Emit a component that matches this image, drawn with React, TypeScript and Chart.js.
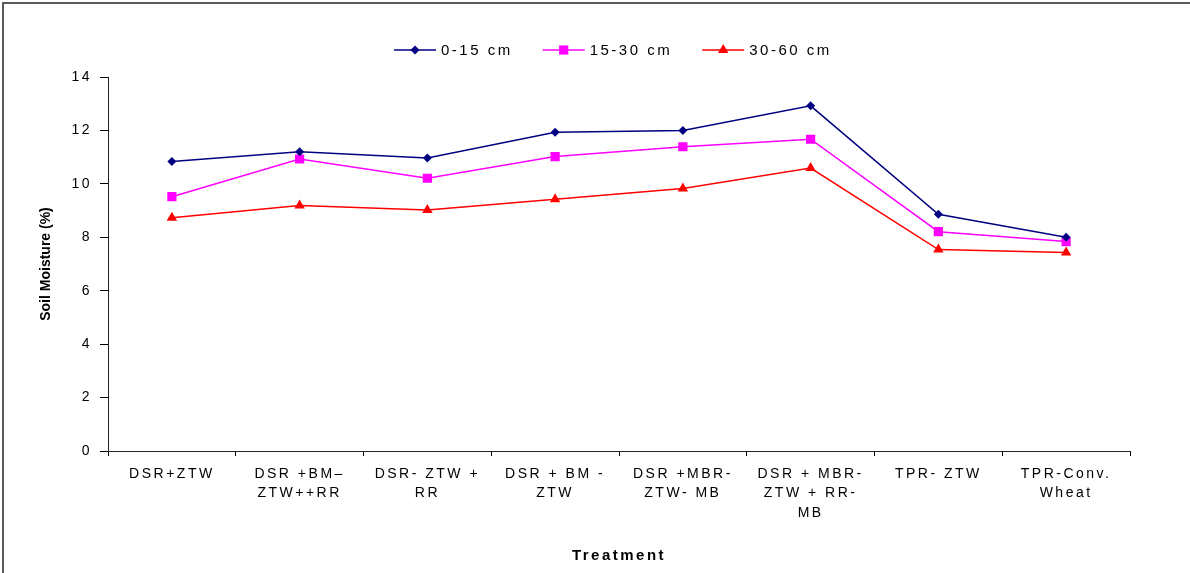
import React, { useEffect, useRef } from 'react';
import { Chart, registerables } from 'chart.js';

Chart.register(...registerables);

const FONT = '"Liberation Sans", Arial, Helvetica, sans-serif';
const SPACING = '2.5px';

const categories: string[][] = [
  ['DSR+ZTW'],
  ['DSR +BM–', 'ZTW++RR'],
  ['DSR- ZTW +', 'RR'],
  ['DSR + BM -', 'ZTW'],
  ['DSR +MBR-', 'ZTW- MB'],
  ['DSR + MBR-', 'ZTW + RR-', 'MB'],
  ['TPR- ZTW'],
  ['TPR-Conv.', 'Wheat'],
];

const seriesNames = ['0-15 cm', '15-30 cm', '30-60 cm'];
const depth0to15 = [10.84, 11.2, 10.97, 11.93, 12.0, 12.92, 8.86, 8.0];
const depth15to30 = [9.52, 10.93, 10.21, 11.02, 11.39, 11.67, 8.21, 7.84];
const depth30to60 = [8.73, 9.19, 9.02, 9.42, 9.83, 10.59, 7.54, 7.43];
const seriesColors = ['#000080', '#FF00FF', '#FF0000'];
const seriesMarkers = ['rectRot', 'rect', 'triangle'];
const seriesRadius = [4.5, 6.5, 6];
const yTicks = [0, 2, 4, 6, 8, 10, 12, 14];

const yTitle = 'Soil Moisture (%)';
const xTitle = 'Treatment';

function setSpacing(ctx: any, v: string) {
  if (ctx && 'letterSpacing' in ctx) ctx.letterSpacing = v;
}

function drawMarker(ctx: CanvasRenderingContext2D, style: string, x: number, y: number, r: number, color: string) {
  ctx.fillStyle = color;
  ctx.strokeStyle = color;
  ctx.beginPath();
  if (style === 'rectRot') {
    ctx.moveTo(x - r, y);
    ctx.lineTo(x, y - r);
    ctx.lineTo(x + r, y);
    ctx.lineTo(x, y + r);
    ctx.closePath();
  } else if (style === 'rect') {
    const s = Math.SQRT1_2 * r;
    ctx.rect(x - s, y - s, 2 * s, 2 * s);
  } else {
    let rad = 0;
    ctx.moveTo(x + Math.sin(rad) * r, y - Math.cos(rad) * r);
    rad += (2 * Math.PI) / 3;
    ctx.lineTo(x + Math.sin(rad) * r, y - Math.cos(rad) * r);
    rad += (2 * Math.PI) / 3;
    ctx.lineTo(x + Math.sin(rad) * r, y - Math.cos(rad) * r);
    ctx.closePath();
  }
  ctx.fill();
}

const spacingPlugin = {
  id: 'spacingPlugin',
  beforeUpdate(chart: any) { setSpacing(chart.ctx, SPACING); },
  beforeLayout(chart: any) { setSpacing(chart.ctx, SPACING); },
  beforeDraw(chart: any) {
    const ctx = chart.ctx;
    setSpacing(ctx, SPACING);
    ctx.save();
    ctx.strokeStyle = '#5a5a5a';
    ctx.lineWidth = 2;
    ctx.beginPath();
    ctx.moveTo(3, chart.height);
    ctx.lineTo(3, 3);
    ctx.lineTo(chart.width, 3);
    ctx.stroke();
    ctx.restore();
  },
  afterDatasetsDraw(chart: any) { setSpacing(chart.ctx, '0px'); },
  afterDraw(chart: any) {
    const ctx = chart.ctx;
    ctx.save();
    setSpacing(ctx, SPACING);
    ctx.font = `15px ${FONT}`;
    ctx.textBaseline = 'middle';
    ctx.textAlign = 'left';
    let x = 394;
    const y = 50;
    chart.data.datasets.forEach((ds: any) => {
      ctx.strokeStyle = ds.borderColor;
      ctx.lineWidth = 1.5;
      ctx.beginPath();
      ctx.moveTo(x, y);
      ctx.lineTo(x + 42, y);
      ctx.stroke();
      drawMarker(ctx, ds.pointStyle, x + 21, y, ds.pointRadius, ds.backgroundColor);
      ctx.fillStyle = '#000';
      ctx.fillText(ds.label, x + 47, y + 1);
      x += 47 + ctx.measureText(ds.label).width + 30;
    });
    ctx.restore();
    setSpacing(ctx, SPACING);
  },
};

export default function App() {
  const ref = useRef<HTMLCanvasElement>(null);

  useEffect(() => {
    if (!ref.current) return;
    const seriesValues = [depth0to15, depth15to30, depth30to60];
    const chart = new Chart(ref.current, {
      type: 'line',
      data: {
        labels: categories,
        datasets: seriesNames.map((name, i) => ({
          label: name,
          data: seriesValues[i],
          borderColor: seriesColors[i],
          backgroundColor: seriesColors[i],
          pointBackgroundColor: seriesColors[i],
          pointBorderColor: seriesColors[i],
          pointStyle: seriesMarkers[i] as any,
          pointRadius: seriesRadius[i],
          pointBorderWidth: 0,
          borderWidth: 1.5,
          tension: 0,
          fill: false,
        })),
      },
      options: {
        responsive: false,
        animation: false,
        devicePixelRatio: 1,
        layout: { padding: { left: 0, top: 77, right: 60, bottom: 8 } },
        plugins: {
          legend: { display: false },
          tooltip: { enabled: false },
          title: { display: false },
        },
        scales: {
          x: {
            type: 'category',
            offset: true,
            grid: {
              display: true,
              drawOnChartArea: false,
              drawTicks: true,
              tickLength: 5,
              offset: true,
              color: '#000',
            },
            border: { display: true, color: '#222', width: 1 },
            ticks: {
              autoSkip: false,
              maxRotation: 0,
              minRotation: 0,
              padding: 8,
              color: '#000',
              font: { family: FONT, size: 14, lineHeight: 1.4 },
            },
            title: {
              display: true,
              text: xTitle,
              color: '#000',
              font: { family: FONT, size: 15, weight: 'bold' },
              padding: { top: 0, bottom: 0 },
            },
            afterFit: (scale: any) => { scale.height = 114; },
          },
          y: {
            min: 0,
            max: 14,
            afterBuildTicks: (scale: any) => {
              scale.ticks = yTicks.map((v) => ({ value: v }));
            },
            grid: {
              display: true,
              drawOnChartArea: false,
              drawTicks: true,
              tickLength: 8,
              color: '#000',
              z: 1,
            },
            border: { display: true, color: '#222', width: 1, z: 2 },
            ticks: {
              padding: 8,
              color: '#000',
              font: { family: FONT, size: 14 },
            },
            title: {
              display: true,
              text: yTitle,
              color: '#000',
              font: { family: FONT, size: 14, weight: 'bold' },
              padding: { top: 38, bottom: 0 },
            },
            afterFit: (scale: any) => { scale.width = 108; },
          },
        },
      },
      plugins: [spacingPlugin],
    });
    return () => chart.destroy();
  }, []);

  return (
    <div style={{ position: 'absolute', left: 0, top: 0, width: 1190, height: 573, background: '#fff' }}>
      <canvas ref={ref} width={1190} height={573} />
    </div>
  );
}
